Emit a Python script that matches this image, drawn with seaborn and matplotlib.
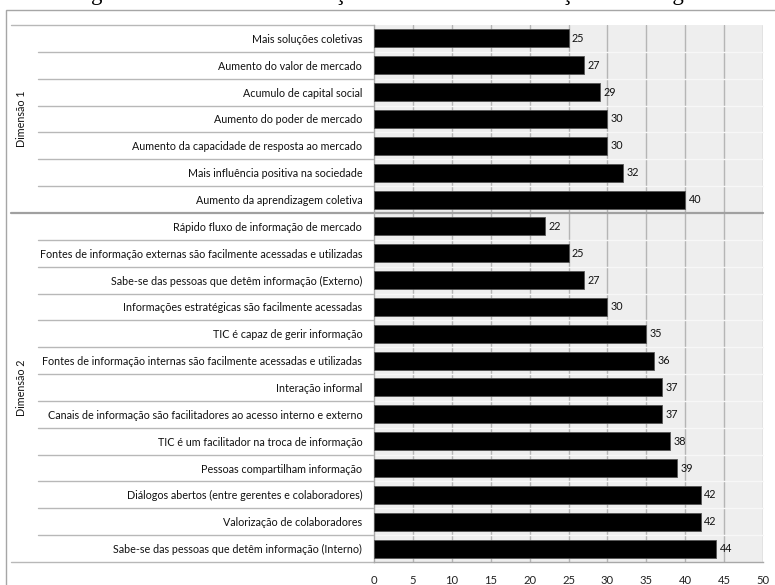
import matplotlib
matplotlib.use("Agg")
import matplotlib.pyplot as plt
from matplotlib.patches import Rectangle
from matplotlib.transforms import blended_transform_factory
import seaborn as sns
import pandas as pd

# --- data -------------------------------------------------------------
dim1_labels = [
    "Mais soluções coletivas",
    "Aumento do valor de mercado",
    "Acumulo de capital social",
    "Aumento do poder de mercado",
    "Aumento da capacidade de resposta ao mercado",
    "Mais influência positiva na sociedade",
    "Aumento da aprendizagem coletiva",
]
dim1_values = [25, 27, 29, 30, 30, 32, 40]

dim2_labels = [
    "Rápido fluxo de informação de mercado",
    "Fontes de informação externas são facilmente acessadas e utilizadas",
    "Sabe-se das pessoas que detêm informação (Externo)",
    "Informações estratégicas são facilmente acessadas",
    "TIC é capaz de gerir informação",
    "Fontes de informação internas são facilmente acessadas e utilizadas",
    "Interação informal",
    "Canais de informação são facilitadores ao acesso interno e externo",
    "TIC é um facilitador na troca de informação",
    "Pessoas compartilham informação",
    "Diálogos abertos (entre gerentes e colaboradores)",
    "Valorização de colaboradores",
    "Sabe-se das pessoas que detêm informação (Interno)",
]
dim2_values = [22, 25, 27, 30, 35, 36, 37, 37, 38, 39, 42, 42, 44]

group_names = ["Dimensão 1", "Dimensão 2"]
x_ticks = [0, 5, 10, 15, 20, 25, 30, 35, 40, 45, 50]
title_text = "Figura 1: Fatores da Informação relacionados à Inovação Tecnológica"

df = pd.DataFrame({
    "item": dim1_labels + dim2_labels,
    "valor": dim1_values + dim2_values,
    "grupo": [group_names[0]] * len(dim1_labels) + [group_names[1]] * len(dim2_labels),
})

# --- style ------------------------------------------------------------
sns.set_theme(style="white")
plt.rcParams["font.family"] = ["Lato", "DejaVu Sans"]
plt.rcParams["savefig.bbox"] = "standard"
FS = 7.75
GRID = "#b5b5b5"
LINE = "#a8a8a8"

W, H = 775, 585
fig = plt.figure(figsize=(W / 100, H / 100), dpi=100)
ax = fig.add_axes([374 / W, 1 - 562 / H, (763 - 374) / W, (562 - 25) / H])
ax.set_facecolor("#eeeeee")

sns.barplot(data=df, y="item", x="valor", orient="h", order=df["item"],
            color="black", width=0.67, edgecolor="#555555", linewidth=0.6,
            saturation=1, ax=ax, zorder=3)

n = len(df)
ax.set_xlim(0, 50)
ax.set_ylim(n - 0.5, -0.5)
ax.set_xticks(x_ticks)
ax.set_xticklabels([str(t) for t in x_ticks], fontsize=FS + 0.4, color="#222222")
ax.tick_params(axis="x", direction="out", length=4, width=0.8, color=LINE, pad=5)
ax.set_xlabel("")
ax.set_ylabel("")
ax.set_yticks(range(n))
ax.set_yticklabels(df["item"], fontsize=FS, color="#111111")
ax.tick_params(axis="y", length=0, pad=8.5)

for x in x_ticks[1:]:
    ax.axvline(x, color=GRID, lw=1.0, zorder=1)
for s in ["top", "right"]:
    ax.spines[s].set_visible(False)
for s in ["left", "bottom"]:
    ax.spines[s].set_color(LINE)
    ax.spines[s].set_linewidth(1.0)

# value labels at the end of each bar
for cont in ax.containers:
    ax.bar_label(cont, fmt="%d", padding=2.5, fontsize=FS, color="#111111")

# category separators in the label column and faint bands in the plot area
trans = blended_transform_factory(ax.transAxes, ax.transData)
x_item = (38 - 374) / (763 - 374)
x_group = (11 - 374) / (763 - 374)
split = len(dim1_labels) - 0.5
for i in range(1, n):
    yb = i - 0.5
    if abs(yb - split) < 1e-9:
        continue
    ax.plot([x_item, 0], [yb, yb], transform=trans, color="#b8b8b8", lw=1.0,
            clip_on=False, zorder=2)
    ax.plot([0, 1], [yb, yb], transform=trans, color="#f7f7f7", lw=1.0,
            clip_on=False, zorder=2)
ax.plot([x_group, 1], [split, split], transform=trans, color="#a0a0a0", lw=1.6,
        clip_on=False, zorder=2)
ax.plot([x_group, 0], [-0.5, -0.5], transform=trans, color="#b8b8b8", lw=1.0,
        clip_on=False, zorder=2)
ax.plot([x_group, 0], [n - 0.5, n - 0.5], transform=trans, color="#b8b8b8", lw=1.0,
        clip_on=False, zorder=2)

# group names, rotated, centred on each block
x_dim = (22 - 374) / (763 - 374)
ax.text(x_dim, (-0.5 + split) / 2, group_names[0], transform=trans, rotation=90,
        ha="center", va="center", fontsize=FS, color="#111111")
ax.text(x_dim, (split + n - 0.5) / 2, group_names[1], transform=trans, rotation=90,
        ha="center", va="center", fontsize=FS, color="#111111")

# outer chart frame
fig.add_artist(Rectangle((6 / W, -0.05), 1.2, 1 - 9.5 / H + 0.05,
                         transform=fig.transFigure, fill=False,
                         edgecolor="#a6a6a6", lw=1.0))

# caption above the chart (only its lower edge falls inside the canvas)
fig.text(0.505, 1.0, title_text, ha="center", va="baseline",
         fontsize=16.5, family=["Liberation Serif", "DejaVu Serif"], color="black")

fig.savefig("out.png", dpi=100, bbox_inches=None)
